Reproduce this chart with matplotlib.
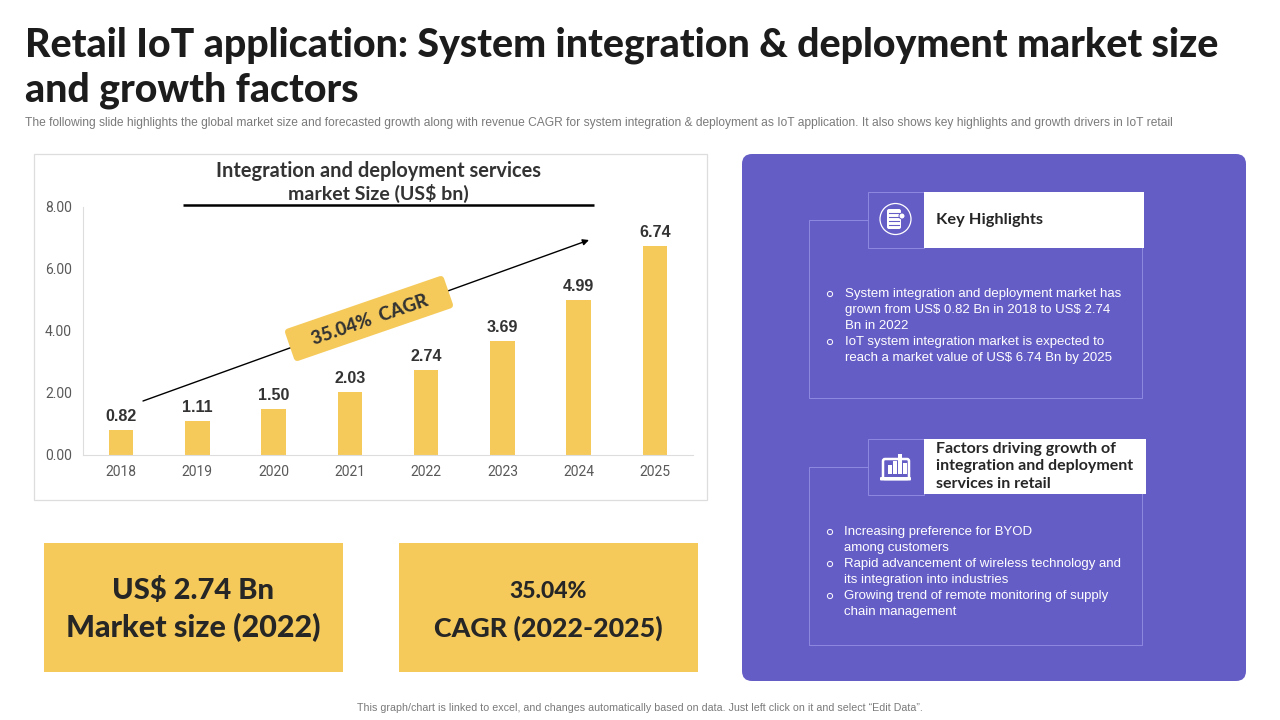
#!/usr/bin/env python3
"""Retail IoT slide: market size bars, two KPI boxes, purple highlights panel."""
import matplotlib
matplotlib.use("Agg")
import matplotlib.pyplot as plt
from matplotlib.patches import Rectangle, FancyBboxPatch, Circle
from matplotlib.transforms import Affine2D

years = ["2018", "2019", "2020", "2021", "2022", "2023", "2024", "2025"]
market_size = [0.82, 1.11, 1.50, 2.03, 2.74, 3.69, 4.99, 6.74]
y_ticks = [0, 2, 4, 6, 8]

title_lines = ["Retail IoT application: System integration & deployment market size",
               "and growth factors"]
subtitle = ("The following slide highlights the global market size and forecasted growth along with "
            "revenue CAGR for system integration & deployment as IoT application. It also shows key "
            "highlights and growth drivers in IoT retail")
footer = "This graph/chart is linked to excel, and changes automatically based on data. Just left click on it and select \u201cEdit Data\u201d."

highlights = [("o", "System integration and deployment market has"),
              ("", "grown from US$ 0.82 Bn in 2018 to US$ 2.74"),
              ("", "Bn in 2022"),
              ("o", "IoT system integration market is expected to"),
              ("", "reach a market value of US$ 6.74 Bn by 2025")]
factors = [("o", "Increasing preference for BYOD"),
           ("", "among customers"),
           ("o", "Rapid advancement of wireless technology and"),
           ("", "its integration into industries"),
           ("o", "Growing trend of remote monitoring of supply"),
           ("", "chain management")]

YELLOW = "#F5CA5B"
PURPLE = "#655DC6"
LINE = "#8F89E0"
DARK = "#262626"
HEAD = "Lato"
BODY = "Liberation Sans"

fig = plt.figure(figsize=(12.8, 7.2), dpi=100, facecolor="white")

# page layer in pixel coordinates
bg = fig.add_axes([0, 0, 1, 1], zorder=0)
bg.set_xlim(0, 1280)
bg.set_ylim(720, 0)
bg.axis("off")

# header
bg.text(25, 45, title_lines[0], fontsize=28.3, fontweight="black", family=HEAD, color="#1c1c1c", va="center")
bg.text(25, 90, title_lines[1], fontsize=28.3, fontweight="black", family=HEAD, color="#1c1c1c", va="center")
bg.text(25, 123, subtitle, fontsize=8.62, family=BODY, color="#7a7a7a", va="center")
bg.text(639.5, 708, footer, fontsize=7.65, family=BODY, color="#7a7a7a", va="center", ha="center")

# chart frame and heading
bg.add_patch(Rectangle((34, 154), 673, 345.5, fc="white", ec="#dddddd", lw=0.9))
bg.text(378, 171, "Integration and deployment services", fontsize=14.4, fontweight="bold",
        family=HEAD, color="#333333", ha="center", va="center")
bg.text(378, 193, "market Size (US$ bn)", fontsize=14, fontweight="bold",
        family=HEAD, color="#333333", ha="center", va="center")
bg.plot([183, 594], [204.5, 204.5], color="black", lw=1.8, solid_capstyle="butt")

# KPI boxes
bg.add_patch(Rectangle((44, 543), 299, 129, fc=YELLOW, ec="none"))
bg.add_patch(Rectangle((399, 543), 299, 129, fc=YELLOW, ec="none"))
bg.text(193.5, 590, "US$ 2.74 Bn", fontsize=21, fontweight="black", family=HEAD, color=DARK, ha="center", va="center")
bg.text(193, 628, "Market size (2022)", fontsize=22, fontweight="black", family=HEAD, color=DARK, ha="center", va="center")
bg.text(548.5, 592, "35.04%", fontsize=16.5, fontweight="black", family=HEAD, color=DARK, ha="center", va="center")
bg.text(548.5, 628, "CAGR (2022-2025)", fontsize=19.3, fontweight="black", family=HEAD, color=DARK, ha="center", va="center")

# purple panel
bg.add_patch(FancyBboxPatch((750, 162), 488, 511, boxstyle="round,pad=8,rounding_size=10", fc=PURPLE, ec="none"))


def card(bottom, head_top, head_bottom, head_right):
    """Outlined card with the icon square and white heading strip."""
    bg.plot([868, 809, 809, 1142, 1142],
            [head_top + 28, head_top + 28, bottom, bottom, head_bottom],
            color=LINE, lw=0.7)
    bg.add_patch(Rectangle((868, head_top - 0.5), 56, head_bottom - head_top + 1, fc="none", ec=LINE, lw=0.7))
    bg.add_patch(Rectangle((924, head_top), head_right - 924, head_bottom - head_top, fc="white", ec="none"))


card(398, 192, 247.5, 1144)
card(645, 439, 494, 1146)

bg.text(936, 220, "Key Highlights", fontsize=11.8, fontweight="bold", family=HEAD, color=DARK, va="center")
for i, line in enumerate(["Factors driving growth of", "integration and deployment", "services in retail"]):
    bg.text(936, 449 + i * 17.3, line, fontsize=11.5, fontweight="bold", family=HEAD, color=DARK, va="center")

for (bullet, line), y in zip(highlights, [294, 310, 326, 342, 358]):
    if bullet:
        bg.add_patch(Circle((830, y), 2.6, fc="none", ec="white", lw=0.7))
    bg.text(845, y, line, fontsize=9.5, family=BODY, color="white", va="center", parse_math=False)
for (bullet, line), y in zip(factors, [532, 548, 564, 580, 596, 612]):
    if bullet:
        bg.add_patch(Circle((830, y), 2.6, fc="none", ec="white", lw=0.7))
    bg.text(844.5, y, line, fontsize=9.5, family=BODY, color="white", va="center", parse_math=False)

# document icon
bg.add_patch(Circle((895.5, 219), 15.5, fc="none", ec="white", lw=0.9))
bg.add_patch(FancyBboxPatch((887, 209), 14, 20, boxstyle="round,pad=0,rounding_size=2", fc="white", ec="none"))
for y in [213, 217, 221, 225]:
    bg.plot([889, 899], [y, y], color=PURPLE, lw=0.8)
bg.add_patch(Circle((902, 216), 3, fc="white", ec=PURPLE, lw=0.7))

# laptop chart icon
bg.add_patch(FancyBboxPatch((883, 459), 26, 20, boxstyle="round,pad=0,rounding_size=2", fc="none", ec="white", lw=1.8))
bg.add_patch(FancyBboxPatch((880, 477), 31, 3.5, boxstyle="round,pad=0,rounding_size=1", fc="white", ec="none"))
for x, h in [(888, 9), (893, 13), (898, 20), (903, 11)]:
    bg.add_patch(Rectangle((x, 474 - h), 3.5, h, fc="white", ec="none"))

# bar chart, positioned so 0 and 8 land on the reference gridline rows
ax = fig.add_axes([83 / 1280, 1 - 455 / 720, 610 / 1280, 248 / 720], zorder=1)
ax.patch.set_alpha(0)
ax.bar(range(len(years)), market_size, width=0.32, color=YELLOW)
for i, v in enumerate(market_size):
    ax.text(i, v + 0.19, f"{v:.2f}", fontsize=11.6, fontweight="bold", family=BODY, color="#333333", ha="center", va="bottom")
ax.set_xlim(-0.5, 7.5)
ax.set_ylim(0, 8)
ax.set_xticks(range(len(years)))
ax.set_xticklabels(years)
ax.set_yticks(y_ticks)
ax.set_yticklabels([f"{t:.2f}" for t in y_ticks])
ax.tick_params(length=0, labelsize=10, labelcolor="#595959")
ax.tick_params(axis="x", pad=7.5)
ax.tick_params(axis="y", pad=8)
for label in ax.get_xticklabels() + ax.get_yticklabels():
    label.set_family("Roboto")
for side in ["top", "right"]:
    ax.spines[side].set_visible(False)
ax.spines["left"].set_color("#dddddd")
ax.spines["bottom"].set_color("#dddddd")

# CAGR arrow and badge sit over the chart
top = fig.add_axes([0, 0, 1, 1], zorder=2)
top.set_xlim(0, 1280)
top.set_ylim(720, 0)
top.axis("off")
top.annotate("", xy=(589, 240), xytext=(143, 401), zorder=2,
             arrowprops=dict(arrowstyle="-|>", color="black", lw=1, mutation_scale=9, shrinkA=0, shrinkB=0))
badge = FancyBboxPatch((369 - 84, 318.5 - 17), 168, 34, boxstyle="round,pad=0,rounding_size=4", fc=YELLOW, ec="none",
                       zorder=3, transform=Affine2D().rotate_deg_around(369, 318.5, -19) + top.transData)
top.add_patch(badge)
top.text(370, 320, "35.04%  CAGR", fontsize=13.3, fontweight="black", family=HEAD, color="#333333",
         rotation=19, rotation_mode="anchor", ha="center", va="center", zorder=4)

fig.savefig("out.png", dpi=100)
